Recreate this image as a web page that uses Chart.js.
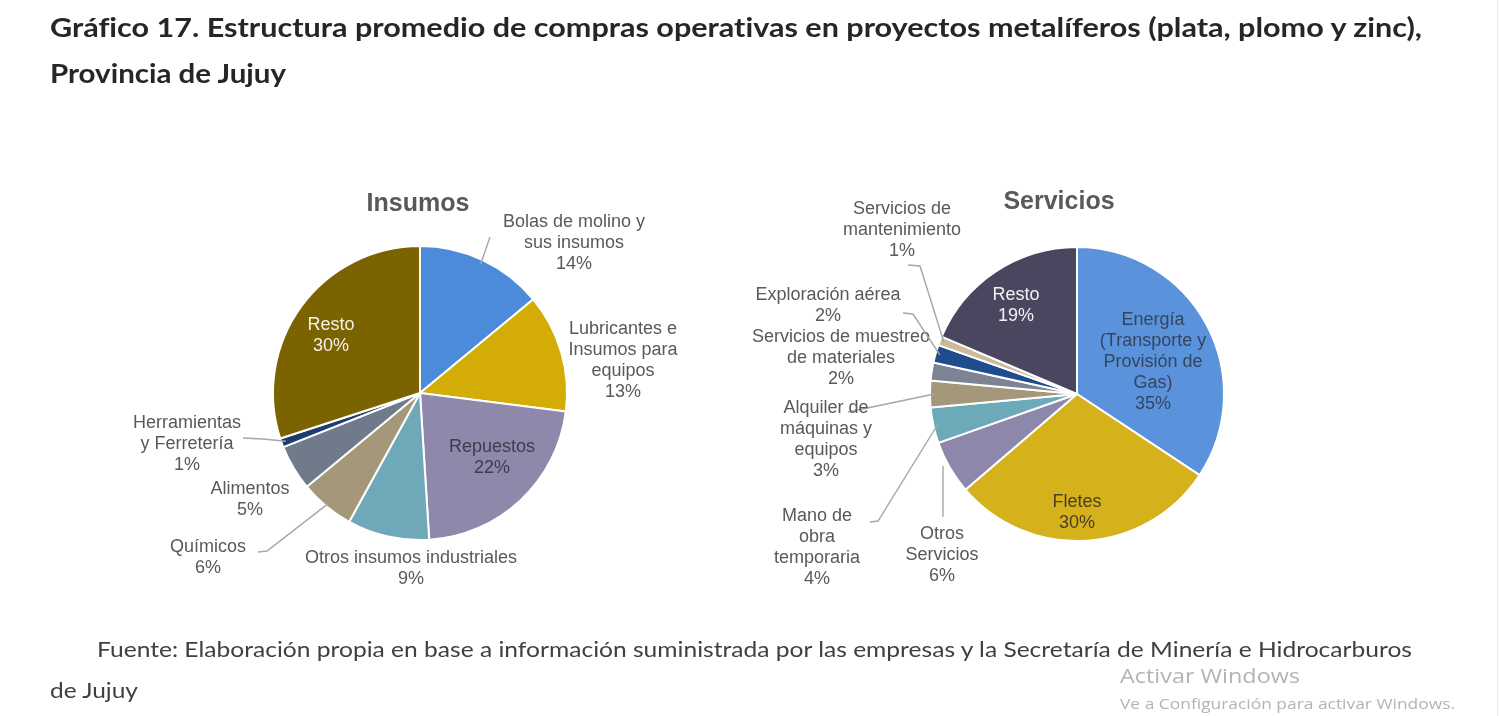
<!DOCTYPE html>
<html>
<head>
<meta charset="utf-8">
<script src="https://cdn.jsdelivr.net/npm/chart.js@4"></script>
<style>
  body { margin: 0; background: #fff; width: 1500px; height: 716px; overflow: hidden; position: relative; }
  canvas { position: absolute; top: 0; }
  .txt { position: absolute; white-space: nowrap; transform-origin: left top; z-index: 2; }
  .title { font: bold 26px Lato, "Open Sans", sans-serif; color: #262626; line-height: 30px; left: 50px; }
  .src { font: 22px Lato, "Open Sans", sans-serif; color: #404040; line-height: 24px; }
  .wm { font-family: "Open Sans", sans-serif; color: #b3b3b3; }
  .txt { font-variant-ligatures: none; font-feature-settings: "liga" 0, "clig" 0, "dlig" 0; }
  .edge { position: absolute; left: 1497px; top: 0; width: 1px; height: 716px; background: #ececec; }
</style>
</head>
<body>
<div class="txt title" id="t1" style="top:12px" data-w="1372">Gráfico 17. Estructura promedio de compras operativas en proyectos metalíferos (plata, plomo y zinc),</div>
<div class="txt title" id="t2" style="top:58px" data-w="236">Provincia de Jujuy</div>
<div class="txt src" style="left:97px;top:637px" data-w="1315">Fuente: Elaboración propia en base a información suministrada por las empresas y la Secretaría de Minería e Hidrocarburos</div>
<div class="txt src" style="left:50px;top:678px" data-w="88">de Jujuy</div>
<div class="txt wm" style="left:1120px;top:662px;font-size:20px" data-w="180">Activar Windows</div>
<div class="txt wm" style="left:1120px;top:694px;font-size:14px" data-w="335">Ve a Configuración para activar Windows.</div>
<div class="edge"></div>

<canvas id="insumos" width="750" height="716" style="left:0"></canvas>
<canvas id="servicios" width="750" height="716" style="left:750px"></canvas>

<script>
// Insumos
const insumosLabels = [
  ['Bolas de molino y', 'sus insumos'],
  ['Lubricantes e', 'Insumos para', 'equipos'],
  ['Repuestos'],
  ['Otros insumos industriales'],
  ['Químicos'],
  ['Alimentos'],
  ['Herramientas', 'y Ferretería'],
  ['Resto']
];
const insumosValues = [14, 13, 22, 9, 6, 5, 1, 30];
const insumosColors = ['#4b8bd9', '#d3ad05', '#8e88aa', '#6ea8b9', '#a4977a', '#6f7b8b', '#1e3c70', '#7a6300'];

// Servicios
const serviciosLabels = [
  ['Energía', '(Transporte y', 'Provisión de', 'Gas)'],
  ['Fletes'],
  ['Otros', 'Servicios'],
  ['Mano de', 'obra', 'temporaria'],
  ['Alquiler de', 'máquinas y', 'equipos'],
  ['Servicios de muestreo', 'de materiales'],
  ['Exploración aérea'],
  ['Servicios de', 'mantenimiento'],
  ['Resto']
];
const serviciosValues = [35, 30, 6, 4, 3, 2, 2, 1, 19];
const serviciosColors = ['#5a93dc', '#d5b11c', '#8d88ab', '#6ca9b9', '#a5977a', '#7d8294', '#1f4c8c', '#cbbb9c', '#4a465f'];

// fit the html text lines to the widths seen in the picture
document.querySelectorAll('.txt').forEach(el => {
  const w = el.getBoundingClientRect().width;
  el.style.transform = 'scaleX(' + (el.dataset.w / w) + ')';
});

Chart.defaults.font.family = '"Liberation Sans", Arial, sans-serif';

const pieLabels = {
  id: 'pieLabels',
  afterDatasetsDraw(chart, args, opts) {
    const ctx = chart.ctx;
    const arcs = chart.getDatasetMeta(0).data;
    const values = chart.data.datasets[0].data;
    const names = chart.data.labels;
    ctx.save();
    ctx.textAlign = 'center';
    ctx.textBaseline = 'middle';
    arcs.forEach((arc, i) => {
      const p = arc.getProps(['x', 'y', 'startAngle', 'endAngle', 'outerRadius'], true);
      const spec = opts.items[i];
      if (spec.leader) {
        const mid = (p.startAngle + p.endAngle) / 2;
        ctx.beginPath();
        spec.leader.forEach(([dx, dy], k) => k ? ctx.lineTo(p.x + dx, p.y + dy) : ctx.moveTo(p.x + dx, p.y + dy));
        if (spec.to) ctx.lineTo(p.x + spec.to[0], p.y + spec.to[1]);
        else ctx.lineTo(p.x + Math.cos(mid) * p.outerRadius * 0.97, p.y + Math.sin(mid) * p.outerRadius * 0.97);
        ctx.strokeStyle = '#a6a6a6';
        ctx.lineWidth = 1.4;
        ctx.stroke();
      }
      const lines = names[i].concat(values[i] + '%');
      ctx.font = '18px "Liberation Sans", Arial';
      ctx.fillStyle = spec.color || '#595959';
      lines.forEach((t, k) => {
        ctx.fillText(t, p.x + spec.pos[0], p.y + spec.pos[1] + (k - (lines.length - 1) / 2) * 21);
      });
    });
    const c = arcs[0].getProps(['x', 'y'], true);
    ctx.font = 'bold 25px "Liberation Sans", Arial';
    ctx.fillStyle = '#595959';
    ctx.fillText(opts.title, c.x + opts.titlePos[0], c.y + opts.titlePos[1]);
    ctx.restore();
  }
};

function makePie(id, labels, values, colors, padding, labelOpts) {
  return new Chart(document.getElementById(id).getContext('2d'), {
    type: 'pie',
    data: {
      labels: labels,
      datasets: [{
        data: values,
        backgroundColor: colors,
        borderColor: '#ffffff',
        borderWidth: 2
      }]
    },
    options: {
      responsive: false,
      animation: false,
      layout: { padding: padding },
      plugins: {
        legend: { display: false },
        tooltip: { enabled: false },
        pieLabels: labelOpts
      }
    },
    plugins: [pieLabels]
  });
}

makePie('insumos', insumosLabels, insumosValues, insumosColors,
  { left: 272, right: 182, top: 245, bottom: 175 },
  {
    title: 'Insumos', titlePos: [-2, -189],
    items: [
      { pos: [154, -150], leader: [[70, -156]] },
      { pos: [203, -32] },
      { pos: [72, 65], color: '#3d3c50' },
      { pos: [-9, 176] },
      { pos: [-212, 165], leader: [[-162, 159], [-153, 158]] },
      { pos: [-170, 107] },
      { pos: [-233, 51], leader: [[-177, 45], [-157, 46]] },
      { pos: [-89, -57], color: '#f4f1e6' }
    ]
  });

makePie('servicios', serviciosLabels, serviciosValues, serviciosColors,
  { left: 179, right: 275, top: 246, bottom: 174 },
  {
    title: 'Servicios', titlePos: [-18, -192],
    items: [
      { pos: [76, -32], color: '#34465e' },
      { pos: [0, 119], color: '#4a4022' },
      { pos: [-135, 161], leader: [[-134, 123]], to: [-134, 72] },
      { pos: [-260, 154], leader: [[-207, 128], [-199, 127]] },
      { pos: [-251, 46], leader: [[-229, 18]] },
      { pos: [-236, -36] },
      { pos: [-249, -88], leader: [[-174, -81], [-164, -80]] },
      { pos: [-175, -164], leader: [[-169, -129], [-157, -128]] },
      { pos: [-61, -88], color: '#f2f2f6' }
    ]
  });
</script>
</body>
</html>
